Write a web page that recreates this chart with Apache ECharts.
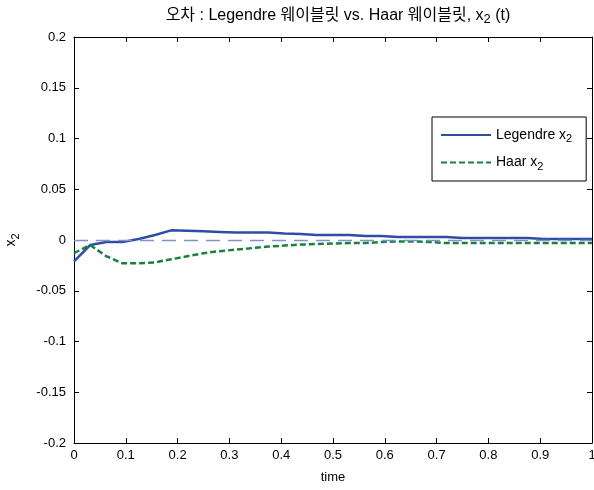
<!DOCTYPE html>
<html>
<head>
<meta charset="utf-8">
<script src="https://cdn.jsdelivr.net/npm/echarts@6/dist/echarts.min.js"></script>
<style>
  html, body { margin: 0; padding: 0; background: #fff; }
  #chart { width: 594px; height: 490px; }
</style>
</head>
<body>
<div id="chart"></div>
<script>
// sample times (step 1/32)
const timeData = [0, 0.03125, 0.0625, 0.09375, 0.125, 0.15625, 0.1875, 0.21875, 0.25, 0.28125, 0.3125,
  0.34375, 0.375, 0.40625, 0.4375, 0.46875, 0.5, 0.53125, 0.5625, 0.59375, 0.625, 0.65625, 0.6875,
  0.71875, 0.75, 0.78125, 0.8125, 0.84375, 0.875, 0.90625, 0.9375, 0.96875, 1];
const legendreX2 = [-0.021, -0.005, -0.002, -0.002, 0.001, 0.005, 0.0095, 0.009, 0.0085, 0.008, 0.0075,
  0.0075, 0.0075, 0.0065, 0.006, 0.005, 0.005, 0.005, 0.004, 0.004, 0.003, 0.003, 0.003,
  0.003, 0.002, 0.002, 0.002, 0.002, 0.002, 0.001, 0.001, 0.001, 0.001];
const haarX2 = [-0.013, -0.005, -0.016, -0.023, -0.023, -0.022, -0.019, -0.016, -0.013, -0.011, -0.0095,
  -0.008, -0.0065, -0.0055, -0.0045, -0.004, -0.0035, -0.003, -0.003, -0.002, -0.0015, -0.0015, -0.002,
  -0.003, -0.003, -0.003, -0.003, -0.003, -0.003, -0.003, -0.003, -0.003, -0.003];
const xTicks = [0, 0.1, 0.2, 0.3, 0.4, 0.5, 0.6, 0.7, 0.8, 0.9, 1];
const yTicks = [-0.2, -0.15, -0.1, -0.05, 0, 0.05, 0.1, 0.15, 0.2];

const fontFamily = '"Liberation Sans", "Noto Sans CJK KR", sans-serif';
const fontColor = '#000';
const makeRich = (size) => ({
  n: { fontSize: size, fontWeight: 'normal', fontFamily: fontFamily, color: fontColor },
  s: { fontSize: size - 3, fontWeight: 'normal', fontFamily: fontFamily, color: fontColor, padding: [8, 0, 0, 0] }
});

const chart = echarts.init(document.getElementById('chart'), null, { renderer: 'canvas' });

const pair = (ys) => timeData.map((t, i) => [t, ys[i]]);
const tickAxis = (extra) => Object.assign({
  type: 'value',
  axisLine: { show: true, onZero: false, lineStyle: { color: '#000', width: 1 } },
  axisTick: { show: true, inside: true, length: 5, lineStyle: { color: '#000' } },
  splitLine: { show: false }
}, extra);

const option = {
  backgroundColor: '#fff',
  animation: false,
  textStyle: { fontFamily: fontFamily },
  title: {
    text: '{n|오차 : Legendre 웨이블릿 vs. Haar 웨이블릿, x}{s|2}{n| (t)}',
    left: 333,
    textAlign: 'center',
    top: 0,
    textStyle: { fontWeight: 'normal', rich: makeRich(16) }
  },
  grid: { left: 74, right: 2, top: 37, bottom: 47, containLabel: false, outerBoundsMode: 'none' },
  legend: {
    orient: 'vertical',
    left: 432,
    top: 117,
    borderColor: '#000',
    borderWidth: 1,
    backgroundColor: '#fff',
    padding: [11, 14, 9, 8],
    itemGap: 11,
    itemWidth: 50,
    itemHeight: 12,
    itemStyle: { opacity: 0 },
    formatter: (name) => name === 'Legendre' ? '{n|Legendre x}{s|2}' : '{n|Haar x}{s|2}',
    textStyle: { rich: makeRich(14) },
    data: ['Legendre', 'Haar']
  },
  xAxis: [
    tickAxis({
      min: 0, max: 1, interval: 0.1,
      position: 'bottom',
      name: 'time',
      nameLocation: 'middle',
      nameGap: 28,
      nameTextStyle: { fontSize: 13, color: fontColor, fontFamily: fontFamily },
      axisLabel: { fontSize: 13, color: fontColor, margin: 6,
        formatter: (v) => String(+v.toFixed(2)) }
    }),
    tickAxis({ min: 0, max: 1, interval: 0.1, position: 'top', axisLabel: { show: false } })
  ],
  yAxis: [
    tickAxis({
      min: -0.2, max: 0.2, interval: 0.05,
      position: 'left',
      name: '{n|x}{s|2}',
      nameLocation: 'middle',
      nameRotate: 90,
      nameGap: 53,
      nameTextStyle: { rich: makeRich(14) },
      axisLabel: { fontSize: 13, color: fontColor, margin: 8,
        formatter: (v) => String(+v.toFixed(2)) }
    }),
    tickAxis({ min: -0.2, max: 0.2, interval: 0.05, position: 'right', axisLabel: { show: false } })
  ],
  series: [
    {
      name: 'Legendre',
      type: 'line',
      data: pair(legendreX2),
      showSymbol: false,
      symbol: 'none',
      lineStyle: { color: '#2f4da5', width: 2.5 },
      itemStyle: { color: '#2f4da5' },
      z: 3,
      markLine: {
        silent: true,
        symbol: 'none',
        label: { show: false },
        lineStyle: { color: '#8092cc', width: 1.3, type: [14, 8] },
        data: [{ yAxis: 0 }]
      }
    },
    {
      name: 'Haar',
      type: 'line',
      data: pair(haarX2),
      showSymbol: false,
      symbol: 'none',
      lineStyle: { color: '#1a8040', width: 2.5, type: [6, 3] },
      itemStyle: { color: '#1a8040' },
      z: 4
    }
  ]
};

chart.setOption(option);
</script>
</body>
</html>
